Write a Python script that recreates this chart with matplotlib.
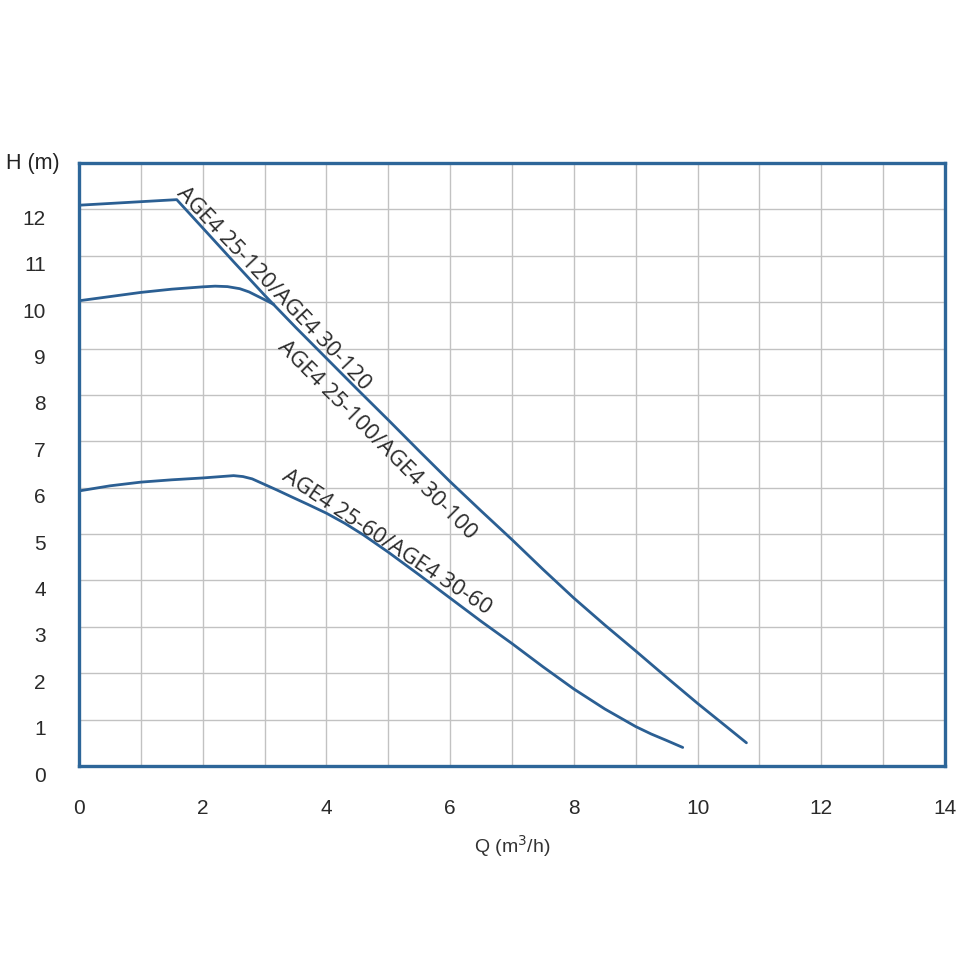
import matplotlib
matplotlib.use("Agg")
import matplotlib.pyplot as plt
from matplotlib.transforms import ScaledTranslation

# pump curves, Q in m3/h, H in m
q_120 = [0, 1.58, 2, 2.5, 3, 3.5, 4, 4.5, 5, 5.5, 6, 6.5, 7, 7.5, 8, 8.5, 9, 9.5, 10, 10.4, 10.79]
h_120 = [12.09, 12.21, 11.60, 10.87, 10.15, 9.46, 8.79, 8.12, 7.46, 6.79, 6.13, 5.50, 4.88,
         4.24, 3.62, 3.04, 2.48, 1.91, 1.35, 0.92, 0.50]

# the 100 curve joins the 120 line near Q=3.1 and follows it from there
q_100 = [0, 0.5, 1, 1.5, 2, 2.2, 2.4, 2.6, 2.75, 2.9, 3.05, 3.15]
h_100 = [10.03, 10.12, 10.21, 10.28, 10.33, 10.345, 10.335, 10.29, 10.22, 10.12, 10.02, 9.95]

q_60 = [0, 0.5, 1, 1.5, 2, 2.3, 2.5, 2.65, 2.8, 3, 3.2, 3.44, 3.7, 4, 4.3, 4.6, 5, 5.5, 6,
        6.5, 7, 7.5, 8, 8.5, 9, 9.25, 9.5, 9.76]
h_60 = [5.93, 6.04, 6.12, 6.17, 6.21, 6.24, 6.26, 6.24, 6.19, 6.07, 5.95, 5.80, 5.64, 5.45,
        5.23, 4.98, 4.61, 4.12, 3.62, 3.12, 2.64, 2.14, 1.66, 1.23, 0.85, 0.69, 0.55, 0.40]

labels = ["AGE4 25-120/AGE4 30-120", "AGE4 25-100/AGE4 30-100", "AGE4 25-60/AGE4 30-60"]
x_ticks = [0, 2, 4, 6, 8, 10, 12, 14]
y_ticks = list(range(0, 13))

blue = "#2b5f93"
frame = "#2d6699"

fig = plt.figure(figsize=(9.6, 9.6), dpi=100)
ax = fig.add_axes([79 / 960, 1 - 766 / 960, (945 - 79) / 960, (766 - 163) / 960])

for q, h in [(q_120, h_120), (q_100, h_100), (q_60, h_60)]:
    ax.plot(q, h, color=blue, lw=2.0, solid_joinstyle="round", solid_capstyle="round")

ax.set_xlim(0, 14)
ax.set_ylim(0, 13)
ax.set_xticks(range(0, 15))
ax.set_yticks(range(0, 14))
ax.grid(True, color="#c2c2c2", lw=1.0)
ax.set_axisbelow(True)

# only every other Q value is labelled, and 13 has no label on H
ax.set_xticklabels([str(v) if v in x_ticks else "" for v in range(0, 15)])
ax.set_yticklabels([str(v) if v in y_ticks else "" for v in range(0, 14)])
ax.tick_params(length=0, labelsize=15, colors="#2a2a2a")
ax.tick_params(axis="x", pad=24)
ax.tick_params(axis="y", pad=24)
for lab in ax.get_xticklabels() + ax.get_yticklabels():
    lab.set_fontfamily("Liberation Sans")
off = ScaledTranslation(0, -8 / 100, fig.dpi_scale_trans)
for lab in ax.get_yticklabels():
    lab.set_transform(lab.get_transform() + off)

for s in ax.spines.values():
    s.set_color(frame)
    s.set_linewidth(2.4)

txt = dict(fontsize=16, color="#2a2a2a", family="Open Sans",
           ha="center", va="center", rotation_mode="anchor")
ax.text(3.15, 10.3, labels[0], rotation=-46.5, **txt)
ax.text(4.81, 7.03, labels[1], rotation=-45, **txt)
ax.text(4.97, 4.83, labels[2], rotation=-33.5, **txt)

fig.text(33 / 960, 1 - 163 / 960, "H (m)", fontsize=15.5, family="Liberation Sans",
         color="#222222", ha="center", va="center")
fig.text(512 / 960, 1 - 846 / 960, "Q (m$^3$/h)", fontsize=14, family="Liberation Sans",
         color="#333333", ha="center", va="center")

fig.savefig("out.png", dpi=100, facecolor="white")
